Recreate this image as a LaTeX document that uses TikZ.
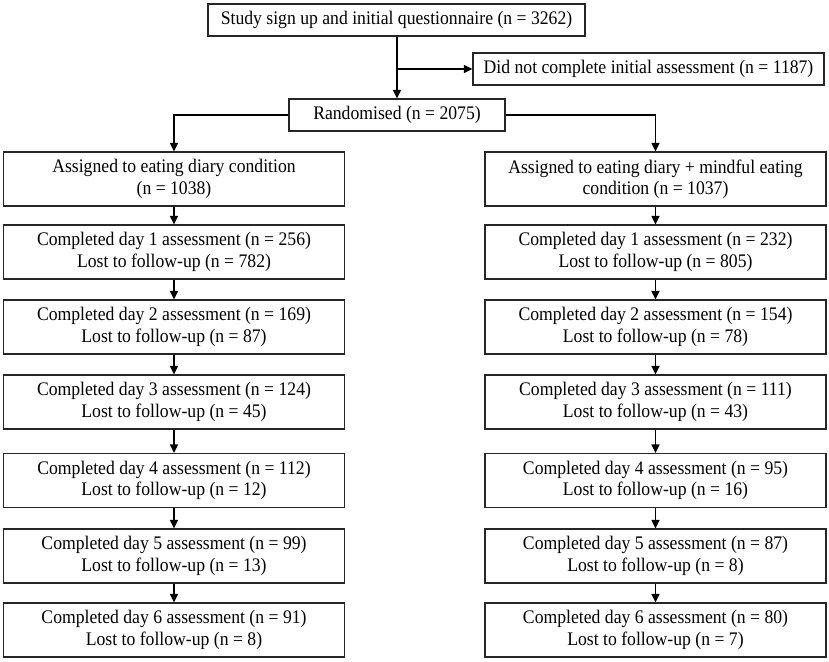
\documentclass[tikz,border=0pt]{standalone}
\usepackage{fontspec}
\setmainfont{Liberation Serif}[FakeStretch=0.92]
\usetikzlibrary{arrows.meta}
\begin{document}
\begin{tikzpicture}[x=1pt,y=-1pt,
  box/.style={draw=black!85, line width=1.2pt, rectangle, inner sep=0pt, align=center,
    font=\fontsize{19.2}{21.4}\selectfont},
  conn/.style={line width=1.3pt, -{Triangle[length=8.5pt,width=8pt]}},
  plain/.style={line width=1.3pt}]
\useasboundingbox (0,0) rectangle (829,661);
% top
\node[box, minimum width=377pt, minimum height=32pt] (study) at (396.5,20) {Study sign up and initial questionnaire (n = 3262)};
\node[box, minimum width=351pt, minimum height=32pt] (dnc) at (648.5,69) {Did not complete initial assessment (n = 1187)};
\node[box, minimum width=216pt, minimum height=32pt] (rand) at (397,115) {Randomised (n = 2075)};
\coordinate (br) at (397,69);
\draw[plain] (study.south -| br) -- (br);
\draw[conn] (br) -- (dnc.west);
\draw[conn] (br) -- (rand.north -| br);
% columns
\def\lx{174}\def\rx{655.5}
\foreach \i/\y in {1/179,2/252,3/327,4/402,5/480.5,6/556,7/630}{
  \coordinate (L\i) at (\lx,\y);
  \coordinate (R\i) at (\rx,\y);
}
\tikzset{col/.style={box, minimum width=341pt, minimum height=54pt}}
\node[col] (a1) at (L1) {Assigned to eating diary condition\\(n = 1038)};
\node[col] (a2) at (L2) {Completed day 1 assessment (n = 256)\\Lost to follow-up (n = 782)};
\node[col] (a3) at (L3) {Completed day 2 assessment (n = 169)\\Lost to follow-up (n = 87)};
\node[col] (a4) at (L4) {Completed day 3 assessment (n = 124)\\Lost to follow-up (n = 45)};
\node[col] (a5) at (L5) {Completed day 4 assessment (n = 112)\\Lost to follow-up (n = 12)};
\node[col] (a6) at (L6) {Completed day 5 assessment (n = 99)\\Lost to follow-up (n = 13)};
\node[col] (a7) at (L7) {Completed day 6 assessment (n = 91)\\Lost to follow-up (n = 8)};
\node[col] (b1) at (R1) {Assigned to eating diary + mindful eating\\condition (n = 1037)};
\node[col] (b2) at (R2) {Completed day 1 assessment (n = 232)\\Lost to follow-up (n = 805)};
\node[col] (b3) at (R3) {Completed day 2 assessment (n = 154)\\Lost to follow-up (n = 78)};
\node[col] (b4) at (R4) {Completed day 3 assessment (n = 111)\\Lost to follow-up (n = 43)};
\node[col] (b5) at (R5) {Completed day 4 assessment (n = 95)\\Lost to follow-up (n = 16)};
\node[col] (b6) at (R6) {Completed day 5 assessment (n = 87)\\Lost to follow-up (n = 8)};
\node[col] (b7) at (R7) {Completed day 6 assessment (n = 80)\\Lost to follow-up (n = 7)};
\draw[conn] (rand.west) -| (a1.north);
\draw[conn] (rand.east) -| (b1.north);
\foreach \p/\n in {1/2,2/3,3/4,4/5,5/6,6/7}{
  \draw[conn] (a\p.south) -- (a\n.north);
  \draw[conn] (b\p.south) -- (b\n.north);
}
\end{tikzpicture}
\end{document}
